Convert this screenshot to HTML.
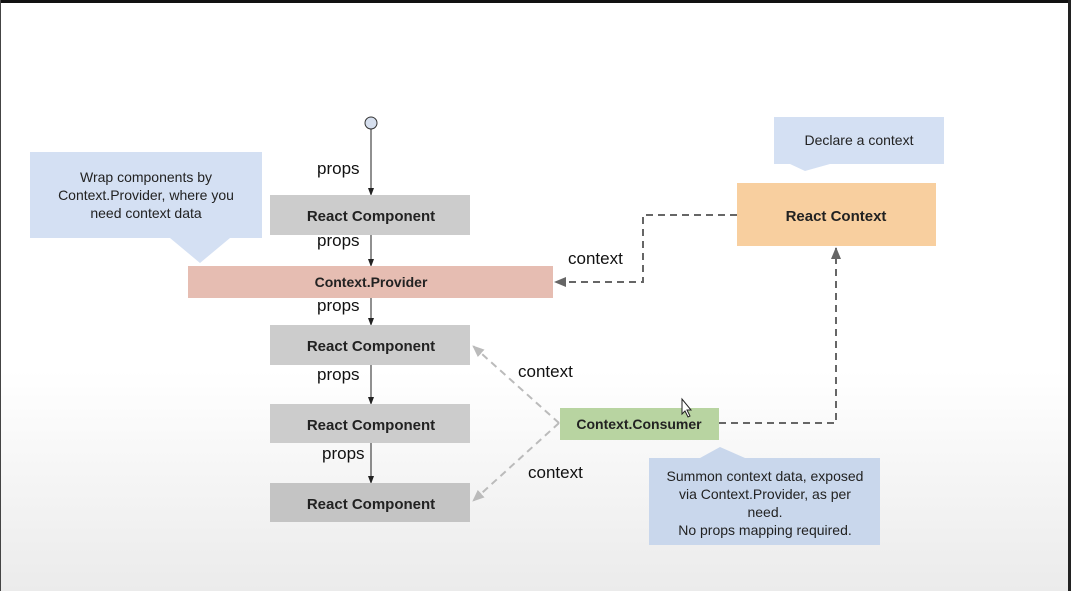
<!DOCTYPE html>
<html><head><style>
html,body{margin:0;padding:0;}
body{width:1071px;height:591px;overflow:hidden;background:linear-gradient(#fff 0,#fff 370px,#ebebeb 591px);font-family:"Liberation Sans",sans-serif;}
</style></head><body>
<svg width="1071" height="591" viewBox="0 0 1071 591" xmlns="http://www.w3.org/2000/svg" style="position:absolute;left:0;top:0">
<defs>
<marker id="ab" markerWidth="8" markerHeight="8" refX="7" refY="4" orient="auto" markerUnits="userSpaceOnUse"><path d="M0,1 L8,4 L0,7 z" fill="#222"/></marker>
<marker id="ag" markerWidth="12" markerHeight="10" refX="11" refY="5" orient="auto" markerUnits="userSpaceOnUse"><path d="M0,0 L12,5 L0,10 z" fill="#666"/></marker>
<marker id="al" markerWidth="12" markerHeight="10" refX="11" refY="5" orient="auto" markerUnits="userSpaceOnUse"><path d="M0,0 L12,5 L0,10 z" fill="#bbb"/></marker>
</defs>
<rect x="0" y="0" width="1071" height="3" fill="#111"/>
<rect x="1068" y="0" width="3" height="591" fill="#222"/>
<rect x="0" y="0" width="1" height="591" fill="#444"/>

<!-- callouts -->
<path d="M30,152 H262 V238 H230 L200,263 L170,238 H30 Z" fill="#d4e0f3"/>
<text font-size="14" fill="#222" text-anchor="middle"><tspan x="146" y="182">Wrap components by</tspan><tspan x="146" y="200">Context.Provider, where you</tspan><tspan x="146" y="218">need context data</tspan></text>
<path d="M774,117 H944 V164 H830 L805,171 L790,164 H774 Z" fill="#d4e0f3"/>
<text x="859" y="145" font-size="14" fill="#222" text-anchor="middle">Declare a context</text>
<path d="M649,458 H700 L720,447 L745,458 H880 V545 H649 Z" fill="#c9d7ec"/>
<text font-size="14" fill="#222" text-anchor="middle"><tspan x="765" y="481">Summon context data, exposed</tspan><tspan x="765" y="499">via Context.Provider, as per</tspan><tspan x="765" y="517">need.</tspan><tspan x="765" y="535">No props mapping required.</tspan></text>

<!-- vertical props flow -->
<circle cx="371" cy="123" r="6" fill="#d6dfee" stroke="#333" stroke-width="1"/>
<line x1="371" y1="129" x2="371" y2="195" stroke="#222" marker-end="url(#ab)"/>
<line x1="371" y1="235" x2="371" y2="266" stroke="#222" marker-end="url(#ab)"/>
<line x1="371" y1="298" x2="371" y2="325" stroke="#222" marker-end="url(#ab)"/>
<line x1="371" y1="365" x2="371" y2="404" stroke="#222" marker-end="url(#ab)"/>
<line x1="371" y1="443" x2="371" y2="483" stroke="#222" marker-end="url(#ab)"/>
<g font-size="17" fill="#111">
<text x="317" y="174">props</text>
<text x="317" y="246">props</text>
<text x="317" y="311">props</text>
<text x="317" y="380">props</text>
<text x="322" y="459">props</text>
</g>

<rect x="270" y="195" width="200" height="40" fill="#cccccc"/>
<rect x="188" y="266" width="365" height="32" fill="#e6bdb2"/>
<rect x="270" y="325" width="200" height="40" fill="#cccccc"/>
<rect x="270" y="404" width="200" height="39" fill="#cccccc"/>
<rect x="270" y="483" width="200" height="39" fill="#c4c4c4"/>
<rect x="737" y="183" width="199" height="63" fill="#f8cf9f"/>
<rect x="560" y="408" width="159" height="32" fill="#b8d4a1"/>
<g font-size="15" font-weight="bold" fill="#222" text-anchor="middle">
<text x="371" y="221">React Component</text>
<text x="371" y="351">React Component</text>
<text x="371" y="430">React Component</text>
<text x="371" y="509">React Component</text>
<text x="836" y="221">React Context</text>
</g>
<text x="371" y="287" font-size="14" font-weight="bold" fill="#222" text-anchor="middle">Context.Provider</text>
<text x="639" y="429" font-size="14" font-weight="bold" fill="#222" text-anchor="middle">Context.Consumer</text>

<!-- dashed connectors -->
<path d="M737,215 H643 V282 H555" fill="none" stroke="#666" stroke-width="2" stroke-dasharray="7,5" marker-end="url(#ag)"/>
<path d="M719,423 H836 V248" fill="none" stroke="#666" stroke-width="2" stroke-dasharray="7,5" marker-end="url(#ag)"/>
<line x1="559" y1="423" x2="473" y2="346" stroke="#bbb" stroke-width="2" stroke-dasharray="7,5" marker-end="url(#al)"/>
<line x1="559" y1="423" x2="473" y2="501" stroke="#bbb" stroke-width="2" stroke-dasharray="7,5" marker-end="url(#al)"/>
<g font-size="17" fill="#111">
<text x="568" y="264">context</text>
<text x="518" y="377">context</text>
<text x="528" y="478">context</text>
</g>
<!-- cursor -->
<path d="M682,399 V414 L685,411 L688,417 L690,416 L687,410 L691,410 Z" fill="#fff" stroke="#222" stroke-width="1"/>
</svg>
</body></html>
